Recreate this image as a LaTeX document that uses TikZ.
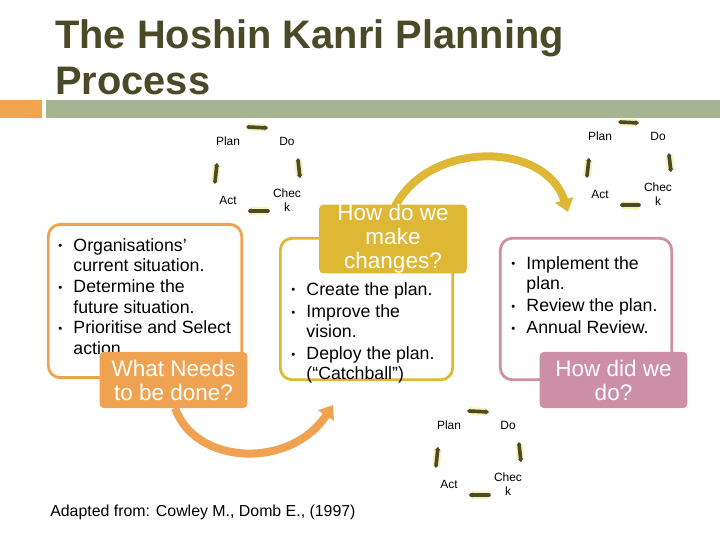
\documentclass[tikz,border=0pt]{standalone}
\usepackage{fontspec}
\setmainfont{Liberation Sans}
\usepackage{xcolor}
\definecolor{titleolive}{RGB}{74, 74, 40}
\definecolor{barorange}{RGB}{242, 165, 80}
\definecolor{bargreen}{RGB}{165, 180, 146}
\definecolor{needorange}{RGB}{239, 163, 82}
\definecolor{changegold}{RGB}{222, 184, 52}
\definecolor{didpink}{RGB}{204, 143, 166}
\definecolor{glowyellow}{RGB}{248, 242, 185}
\usetikzlibrary{positioning, calc, arrows.meta}
\newcommand{\bul}{\raisebox{0.8pt}{\fontsize{8}{8}\selectfont\textbullet}}

\begin{document}
\begin{tikzpicture}[
    x=0.025cm, y=-0.025cm,
    title/.style={anchor=base west, inner sep=0, text=titleolive, font=\fontsize{28.3}{32}\selectfont\bfseries},
    pdca/.style={inner sep=0, align=center, font=\fontsize{8.5}{10}\selectfont},
    cyc/.style={-{Stealth[length=2.5pt, width=3.8pt]}, line width=2.6pt, draw=titleolive, line cap=round,
        preaction={draw=glowyellow, line width=5.5pt}},
    outline/.style={rectangle, rounded corners=8.5pt, line width=2pt, fill=white},
    label/.style={rectangle, rounded corners=3pt, inner sep=0, align=center, text=white,
        minimum width=105pt, minimum height=40pt, font=\fontsize{16}{17}\selectfont},
    bullets/.style={anchor=base west, inner sep=0, font=\fontsize{12.6}{14.3}\selectfont},
    bigarrow/.style={-{Triangle[length=9pt, width=13pt]}, line width=5.7pt}
]
    \useasboundingbox (0,0) rectangle (720,540);

    % title and bars
    \node[title] (title1) at (55,48) {The Hoshin Kanri Planning};
    \node[title] (title2) at ($(title1.base west)+(0,46)$) {Process};
    \fill[barorange] (0,100) rectangle (42,118);
    \fill[bargreen] (46,100) rectangle (720,118);

    % PDCA cycle, top left
    \node[pdca] (p1) at (228,141) {Plan};
    \node[pdca] (d1) at (287,141) {Do};
    \node[pdca] (a1) at (228,200) {Act};
    \node[pdca] (k1) at (287,200) {Chec\\k};
    \draw[cyc] ($(p1)+(20,-14)$) -- ($(d1)+(-19,-13)$);
    \draw[cyc] ($(d1)+(11,19)$) -- ($(k1)+(13,-22)$);
    \draw[cyc] ($(k1)+(-19,11)$) -- ($(a1)+(20,11)$);
    \draw[cyc] ($(a1)+(-13,-18)$) -- ($(p1)+(-11,22)$);

    % PDCA cycle, top right
    \node[pdca] (p2) at (600,136) {Plan};
    \node[pdca] (d2) at (658,136) {Do};
    \node[pdca] (a2) at (600,194) {Act};
    \node[pdca] (k2) at (658,194) {Chec\\k};
    \draw[cyc] ($(p2)+(20,-14)$) -- ($(d2)+(-19,-13)$);
    \draw[cyc] ($(d2)+(11,19)$) -- ($(k2)+(13,-22)$);
    \draw[cyc] ($(k2)+(-19,11)$) -- ($(a2)+(20,11)$);
    \draw[cyc] ($(a2)+(-13,-18)$) -- ($(p2)+(-11,22)$);

    % PDCA cycle, bottom
    \node[pdca] (p3) at (449,425) {Plan};
    \node[pdca] (d3) at (508,425) {Do};
    \node[pdca] (a3) at (449,484) {Act};
    \node[pdca] (k3) at (508,484) {Chec\\k};
    \draw[cyc] ($(p3)+(20,-14)$) -- ($(d3)+(-19,-13)$);
    \draw[cyc] ($(d3)+(11,19)$) -- ($(k3)+(13,-22)$);
    \draw[cyc] ($(k3)+(-19,11)$) -- ($(a3)+(20,11)$);
    \draw[cyc] ($(a3)+(-13,-18)$) -- ($(p3)+(-11,22)$);

    % what needs to be done
    \node[outline, draw=needorange, minimum width=137.5pt, minimum height=109pt] (nowbox) at (145,301) {};
    \node[bullets, font=\fontsize{12.6}{14.7}\selectfont] (nowlist) at (58,251) {\begin{tabular}[t]{@{}l@{\hspace{8pt}}l@{}}
        \bul & Organisations’\\ & current situation.\\
        \bul & Determine the\\ & future situation.\\
        \bul & Prioritise and Select\\ & action.
    \end{tabular}};
    \coordinate (oend) at (333,405);
    \draw[bigarrow, needorange] (175,408) .. controls (195,465) and (290,470) .. (oend);
    \node[label, fill=needorange] (need) at (173.5,380) {What Needs\\to be done?};

    % how do we make changes
    \node[outline, draw=changegold, minimum width=122.6pt, minimum height=100.6pt] (planbox) at (366.5,309) {};
    \node[bullets] (planlist) at (291,295) {\begin{tabular}[t]{@{}l@{\hspace{8pt}}l@{}}
        \bul & Create the plan.\\[1.5pt]
        \bul & Improve the\\ & vision.\\[1.5pt]
        \bul & Deploy the plan.\\ & (“Catchball”)
    \end{tabular}};
    \coordinate (gend) at (568,212);
    \node[label, fill=changegold] (ask) at (393,239) {};
    \draw[bigarrow, changegold] (ask.north) .. controls (425,140) and (545,140) .. (gend);
    \node[label, fill=changegold] at (ask) {How do we\\make\\changes?};

    % how did we do
    \node[outline, draw=didpink, minimum width=121.9pt, minimum height=100.6pt] (checkbox) at (586,309) {};
    \node[bullets] (checklist) at (511,269) {\begin{tabular}[t]{@{}l@{\hspace{8pt}}l@{}}
        \bul & Implement the\\ & plan.\\[1.5pt]
        \bul & Review the plan.\\[1.5pt]
        \bul & Annual Review.
    \end{tabular}};
    \node[label, fill=didpink] (did) at (613.5,380) {How did we\\do?};

    \node[anchor=base west, inner sep=0, font=\fontsize{11.3}{13}\selectfont] (source) at (50,516)
        {Adapted from: Cowley M., Domb E., (1997)};
\end{tikzpicture}
\end{document}
